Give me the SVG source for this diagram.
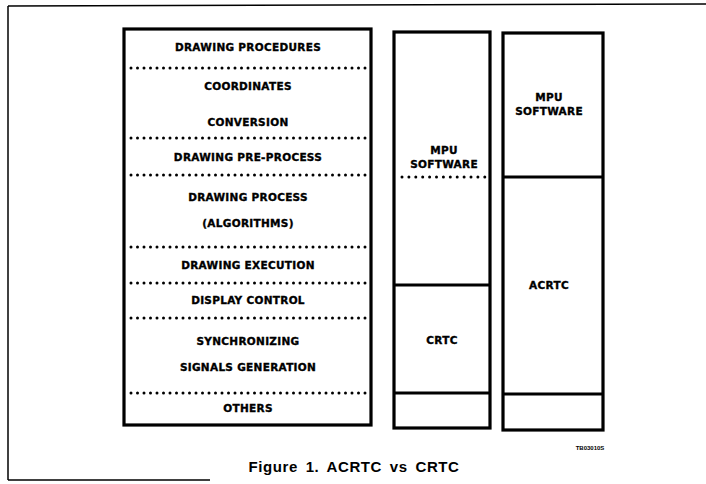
<svg xmlns="http://www.w3.org/2000/svg" width="706" height="484" viewBox="0 0 706 484">
<style>
.box{fill:none;stroke:#000;stroke-width:3.2}
.div{stroke:#000;stroke-width:3.2;fill:none}
.dot{stroke:#000;stroke-width:3;stroke-linecap:round;fill:none}
.frame{stroke:#000;stroke-width:1.5;fill:none}
.t{font-family:"DejaVu Sans",sans-serif;font-weight:bold;font-size:10.5px;letter-spacing:0.3px;text-anchor:middle;fill:#000;stroke:#000;stroke-width:0.35px}
.s{font-family:"Liberation Sans",sans-serif;font-weight:bold;font-size:6px;text-anchor:middle;fill:#000}
.cap{font-family:"Liberation Sans",sans-serif;font-weight:bold;font-size:15px;letter-spacing:0.6px;word-spacing:3px;text-anchor:middle;fill:#000}
</style>
<rect width="706" height="484" fill="#fff"/>
<g id="frame">
<path class="frame" d="M8,6 L706,4"/>
<path class="frame" d="M8,6 L8,480"/>
<path class="frame" d="M8,480 L210,480"/>
</g>
<g id="crtc-system-functions">
<rect class="box" x="124" y="29" width="247" height="396"/>
<text class="t" x="248" y="51">DRAWING PROCEDURES</text>
<text class="t" x="248" y="90">COORDINATES</text>
<text class="t" x="248" y="126">CONVERSION</text>
<text class="t" x="248" y="161">DRAWING PRE-PROCESS</text>
<text class="t" x="248" y="201">DRAWING PROCESS</text>
<text class="t" x="248" y="227">(ALGORITHMS)</text>
<text class="t" x="248" y="269">DRAWING EXECUTION</text>
<text class="t" x="248" y="304">DISPLAY CONTROL</text>
<text class="t" x="248" y="345">SYNCHRONIZING</text>
<text class="t" x="248" y="371">SIGNALS GENERATION</text>
<text class="t" x="248" y="412">OTHERS</text>
<g stroke-dasharray="0 6.5">
<path class="dot" d="M131,68 H366"/>
<path class="dot" d="M131,138 H366"/>
<path class="dot" d="M131,175 H366"/>
<path class="dot" d="M131,247 H366"/>
<path class="dot" d="M131,283 H366"/>
<path class="dot" d="M131,318 H366"/>
<path class="dot" d="M131,393 H366"/>
</g>
</g>
<g id="crtc-column">
<rect class="box" x="394" y="32" width="96" height="396"/>
<path class="div" d="M394,285 H490"/>
<path class="div" d="M394,393 H490"/>
<path class="dot" d="M402,177 H486" stroke-dasharray="0 6.9"/>
<text class="t" x="444" y="154">MPU</text>
<text class="t" x="444" y="168">SOFTWARE</text>
<text class="t" x="442" y="344">CRTC</text>
</g>
<g id="acrtc-column">
<rect class="box" x="503" y="33" width="100" height="397"/>
<path class="div" d="M503,177 H603"/>
<path class="div" d="M503,394 H603"/>
<text class="t" x="549" y="101">MPU</text>
<text class="t" x="549" y="115">SOFTWARE</text>
<text class="t" x="549" y="289">ACRTC</text>
</g>
<g id="labels">
<text class="s" x="590" y="450">TB03010S</text>
<text class="cap" x="354" y="472">Figure 1. ACRTC vs CRTC</text>
</g>
</svg>
